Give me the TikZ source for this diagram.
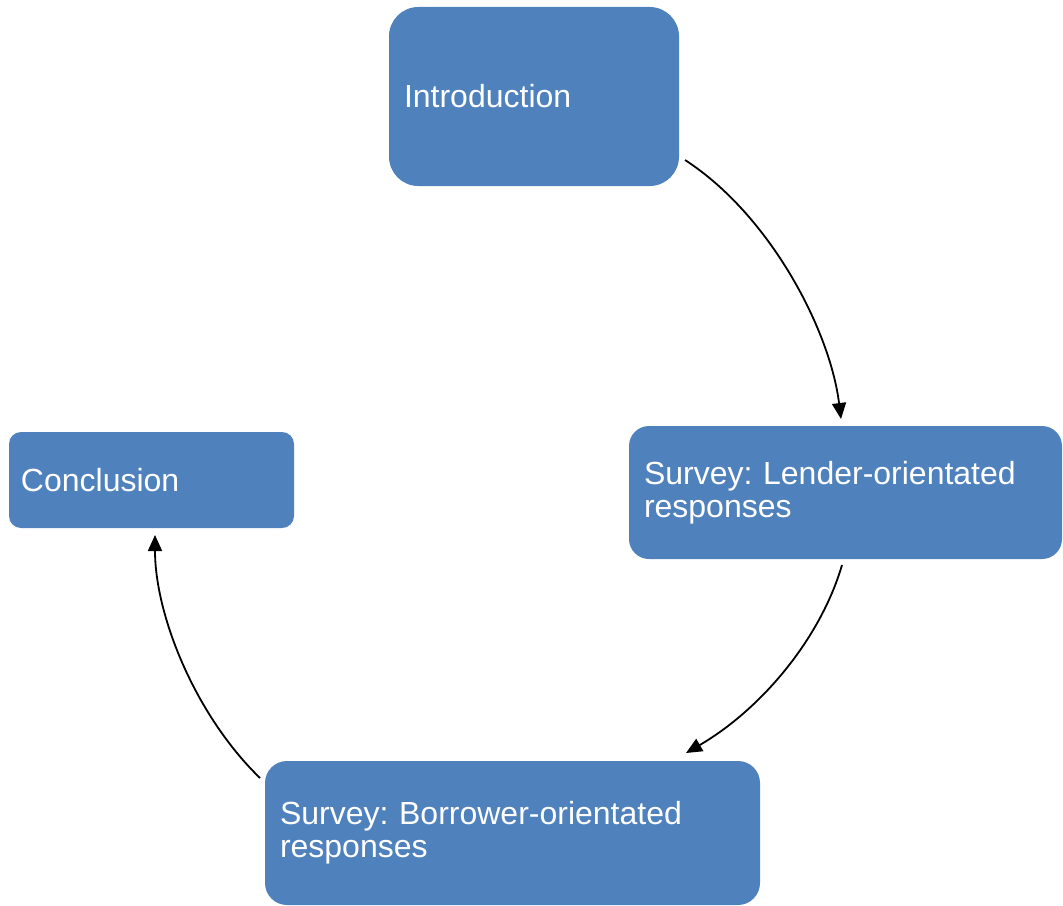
\documentclass[tikz,border=0pt]{standalone}
\usepackage{fontspec}
\setmainfont{Liberation Sans}
\usetikzlibrary{arrows.meta}
\definecolor{boxblue}{HTML}{4F81BD}
\frenchspacing
\tikzset{
  stage/.style={draw=none, fill=boxblue, text=white, align=left,
    inner xsep=11.25pt, inner ysep=0pt, anchor=center,
    font=\fontsize{24}{24.75}\selectfont},
  flow/.style={line width=1.35pt, draw=black,
    -{Triangle[length=12pt,width=10.5pt]}}
}
\begin{document}
\begin{tikzpicture}[x=0.75pt,y=-0.75pt]
  \useasboundingbox (0,0) rectangle (1063,906);
  % the four stages
  \node[stage, rounded corners=22pt, minimum width=217.5pt, minimum height=134.25pt,
        text width=195pt] (intro) at (534,96.5) {Introduction};
  \node[stage, rounded corners=15pt, minimum width=324.75pt, minimum height=99.75pt,
        text width=302.25pt] (lender) at (845.5,492.5) {Survey: Lender-orientated\\responses};
  \node[stage, rounded corners=16.5pt, minimum width=371.25pt, minimum height=108pt,
        text width=348.75pt] (borrower) at (512.5,833) {Survey: Borrower-orientated\\responses};
  \node[stage, rounded corners=9pt, minimum width=213.75pt, minimum height=72pt,
        inner xsep=9pt, text width=195.75pt] (concl) at (151.5,480) {Conclusion};
  % connector ends
  \coordinate (a1) at (685,160);
  \coordinate (a2) at (841,419);
  \coordinate (b1) at (842,565);
  \coordinate (b2) at (686,753);
  \coordinate (c1) at (260,778);
  \coordinate (c2) at (155,535);
  % cycle arrows
  \draw[flow] (a1) .. controls (770,215) and (830,330) .. (a2);
  \draw[flow] (b1) .. controls (820,640) and (760,710) .. (b2);
  \draw[flow] (c1) .. controls (195,715) and (155,615) .. (c2);
\end{tikzpicture}
\end{document}
